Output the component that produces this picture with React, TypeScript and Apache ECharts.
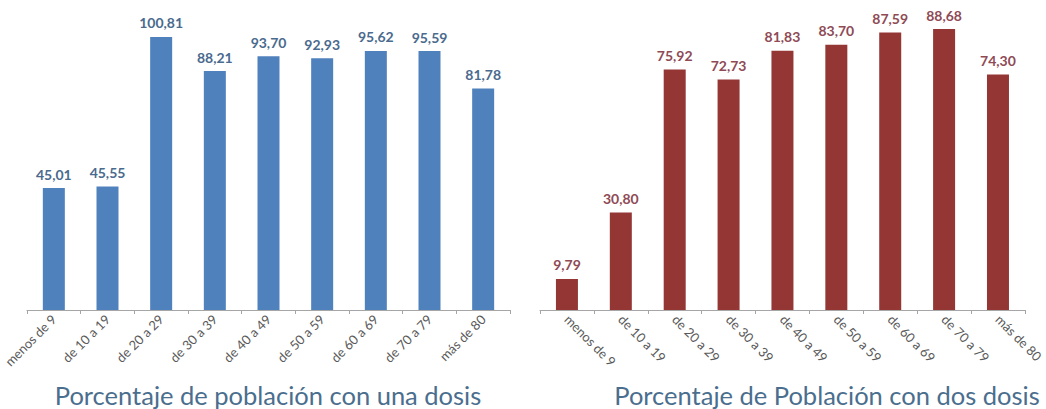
import React, { useEffect, useRef } from "react";
import * as echarts from "echarts";

const categories = [
  "menos de 9",
  "de 10 a 19",
  "de 20 a 29",
  "de 30 a 39",
  "de 40 a 49",
  "de 50 a 59",
  "de 60 a 69",
  "de 70 a 79",
  "más de 80",
];
const unaDosis = [45.01, 45.55, 100.81, 88.21, 93.7, 92.93, 95.62, 95.59, 81.78];
const dosDosis = [9.79, 30.8, 75.92, 72.73, 81.83, 83.7, 87.59, 88.68, 74.3];
const titleLeft = "Porcentaje de población con una dosis";
const titleRight = "Porcentaje de Población con dos dosis";

const FONT = "Lato, 'Open Sans', sans-serif";
const fmt = (v: number) => v.toFixed(2).replace(".", ",");

export default function App() {
  const ref = useRef<HTMLDivElement>(null);
  useEffect(() => {
    document.body.style.margin = "0";
    const chart = echarts.init(ref.current!, null, { renderer: "svg" });
    const xAxisBase = (gridIndex: number, rotate: number) => ({
      type: "category" as const,
      gridIndex,
      data: categories,
      axisLine: { lineStyle: { color: "#a6a6a6", width: 1 } },
      axisTick: { show: true, length: 4, lineStyle: { color: "#a6a6a6" } },
      axisLabel: {
        rotate,
        interval: 0,
        fontSize: 13,
        color: "#595959",
        fontFamily: FONT,
        margin: 7,
      },
    });
    chart.setOption({
      animation: false,
      textStyle: { fontFamily: FONT },
      title: [
        {
          text: titleLeft,
          left: 263,
          top: 377,
          textAlign: "center",
          textStyle: { fontSize: 25.5, fontWeight: "normal", color: "#4a6e8e", fontFamily: FONT },
        },
        {
          text: titleRight,
          left: 822,
          top: 377,
          textAlign: "center",
          textStyle: { fontSize: 25.5, fontWeight: "normal", color: "#4a6e8e", fontFamily: FONT },
        },
      ],
      grid: [
        { left: 27, width: 483, top: 12, height: 298 },
        { left: 540, width: 488, top: 9, height: 301 },
      ],
      xAxis: [xAxisBase(0, 45), xAxisBase(1, -45)],
      yAxis: [
        { type: "value", gridIndex: 0, min: 0, max: 110, show: false, splitLine: { show: false } },
        { type: "value", gridIndex: 1, min: 0, max: 95, show: false, splitLine: { show: false } },
      ],
      series: [
        {
          type: "bar",
          xAxisIndex: 0,
          yAxisIndex: 0,
          data: unaDosis,
          barWidth: 22,
          itemStyle: { color: "#4f81bd" },
          label: {
            show: true,
            position: "top",
            distance: 7,
            formatter: (p: any) => fmt(p.value),
            fontSize: 14,
            fontWeight: "bold",
            color: "#4a6a8e",
            fontFamily: FONT,
          },
        },
        {
          type: "bar",
          xAxisIndex: 1,
          yAxisIndex: 1,
          data: dosDosis,
          barWidth: 22,
          itemStyle: { color: "#943634" },
          label: {
            show: true,
            position: "top",
            distance: 7,
            formatter: (p: any) => fmt(p.value),
            fontSize: 14,
            fontWeight: "bold",
            color: "#8e4a55",
            fontFamily: FONT,
          },
        },
      ],
    });
    return () => chart.dispose();
  }, []);
  return <div ref={ref} style={{ width: 1046, height: 409 }} />;
}
